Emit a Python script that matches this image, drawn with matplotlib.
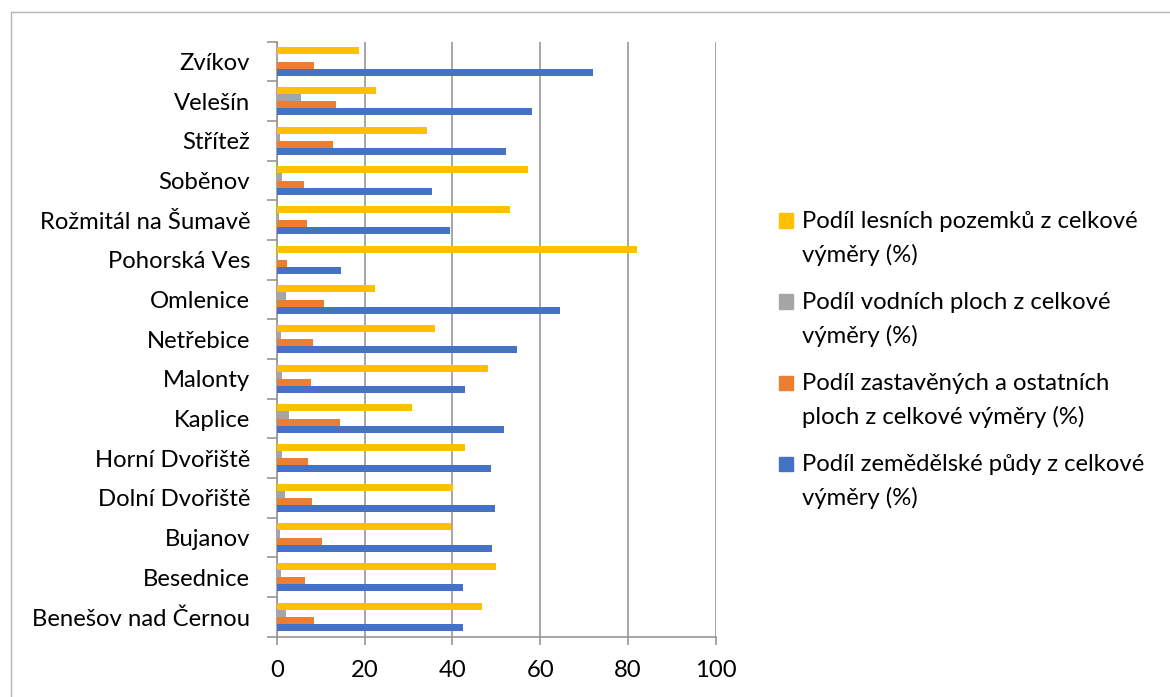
import numpy as np
import matplotlib
matplotlib.use("Agg")
import matplotlib.pyplot as plt
from matplotlib.lines import Line2D
from matplotlib.patches import Rectangle

plt.rcParams['font.family'] = ['Lato', 'DejaVu Sans']

obce = ["Benešov nad Černou", "Besednice", "Bujanov", "Dolní Dvořiště",
        "Horní Dvořiště", "Kaplice", "Malonty", "Netřebice", "Omlenice",
        "Pohorská Ves", "Rožmitál na Šumavě", "Soběnov", "Střítež",
        "Velešín", "Zvíkov"]

zemedelska = [42.3, 42.3, 49.0, 49.6, 48.7, 51.8, 42.8, 54.7, 64.6,
              14.7, 39.4, 35.3, 52.2, 58.2, 72.1]
zastavena = [8.6, 6.5, 10.4, 8.1, 7.1, 14.4, 7.7, 8.3, 10.8,
             2.4, 7.0, 6.2, 12.8, 13.4, 8.6]
vodni = [2.1, 1.0, 0.8, 1.8, 1.1, 2.7, 1.2, 0.9, 2.1,
         0.4, 0.45, 1.3, 0.8, 5.6, 0.2]
lesni = [46.7, 50.0, 39.6, 40.2, 42.8, 30.8, 48.0, 36.0, 22.3,
         82.0, 53.2, 57.3, 34.2, 22.6, 18.8]

popisky = ["Podíl lesních pozemků z celkové\nvýměry (%)",
           "Podíl vodních ploch z celkové\nvýměry (%)",
           "Podíl zastavěných a ostatních\nploch z celkové výměry (%)",
           "Podíl zemědělské půdy z celkové\nvýměry (%)"]
barvy = ["#FFC000", "#A5A5A5", "#ED7D31", "#4472C4"]

FS = 17.2
W, H = 1170, 697
fig = plt.figure(figsize=(W / 100, H / 100), dpi=100)
ax = fig.add_axes([276.7 / W, 1 - 636.7 / H, (716 - 276.7) / W, (636.7 - 41.7) / H])

y = np.arange(len(obce))
h = 0.18
serie = [lesni, vodni, zastavena, zemedelska]
posuny = [1.5 * h, 0.5 * h, -0.5 * h, -1.5 * h]
for vals, off, c in zip(serie, posuny, barvy):
    ax.barh(y + off, vals, height=h, color=c, zorder=3)

ax.set_xlim(0, 100)
ax.set_ylim(-0.5, len(obce) - 0.5)
ax.set_xticks(np.arange(0, 101, 20))
ax.set_yticks(y)
ax.set_yticklabels(obce)
ax.set_yticks(np.arange(-0.5, len(obce), 1), minor=True)

grid_c = "#979797"
ax.grid(axis='x', color=grid_c, linewidth=1.2, zorder=0)
for s in ['top', 'right']:
    ax.spines[s].set_visible(False)
for s in ['left', 'bottom']:
    ax.spines[s].set_color(grid_c)
    ax.spines[s].set_linewidth(1.2)

ax.tick_params(axis='y', which='major', length=0, pad=19, labelsize=FS)
ax.tick_params(axis='y', which='minor', length=7, color=grid_c, width=1.2)
ax.tick_params(axis='x', length=6, color=grid_c, width=1.2, pad=11, labelsize=FS)

# legenda vpravo
for i, (txt, c) in enumerate(zip(popisky, barvy)):
    yc = 220.5 + i * 81
    radky = txt.split("\n")
    fig.patches.append(Rectangle((779 / W, 1 - (yc + 7) / H), 14 / W, 14 / H,
                                 transform=fig.transFigure, color=c))
    fig.text(802 / W, 1 - (yc + 7.5) / H, radky[0],
             fontsize=FS, va='baseline', ha='left')
    fig.text(802 / W, 1 - (yc + 41.5) / H, radky[1],
             fontsize=FS, va='baseline', ha='left')

# ramecek grafu
fig.add_artist(Line2D([11 / W, 1], [1 - 12 / H, 1 - 12 / H], color="#b5b5b5", lw=1))
fig.add_artist(Line2D([11 / W, 11 / W], [0, 1 - 12 / H], color="#b5b5b5", lw=1))

fig.savefig("out.png", dpi=100)
